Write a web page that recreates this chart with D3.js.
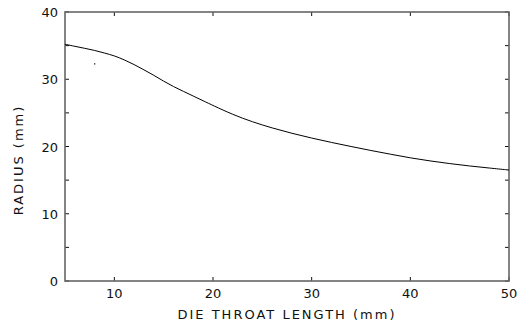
<!DOCTYPE html>
<html>
<head>
<meta charset="utf-8">
<script src="https://cdn.jsdelivr.net/npm/d3@7"></script>
<style>
  body { margin: 0; background: #fff; }
  text { font-family: "DejaVu Sans", sans-serif; fill: #111; }
</style>
</head>
<body>
<div id="chart"></div>
<script>
// curve
const throatLength = [5, 6, 7, 8, 9, 10, 11, 12, 13, 14, 15, 16, 17, 18, 19, 20,
    22, 24, 26, 28, 30, 32, 34, 36, 38, 40, 42, 44, 46, 48, 50];
const radius = [35.2, 34.9, 34.6, 34.3, 33.9, 33.5, 32.9, 32.2, 31.4, 30.6, 29.7, 28.9, 28.2, 27.5, 26.8, 26.1,
    24.75, 23.65, 22.75, 21.95, 21.25, 20.6, 20.0, 19.4, 18.85, 18.3, 17.85, 17.45, 17.1, 16.8, 16.5];
// lone stray point
const strayX = [8];
const strayY = [32.3];

const xTicks = [10, 20, 30, 40, 50];
const yTicks = [0, 5, 10, 15, 20, 25, 30, 35, 40];
const yLabels = [0, 10, 20, 30, 40];

const width = 525;
const height = 327;
const margin = { top: 12, right: 16, bottom: 46, left: 65 };

const svg = d3.select("#chart")
    .append("svg")
    .attr("width", width)
    .attr("height", height);

const xScale = d3.scaleLinear()
    .domain([5, 50])
    .range([margin.left, width - margin.right]);

const yScale = d3.scaleLinear()
    .domain([0, 40])
    .range([height - margin.bottom, margin.top]);

const x0 = xScale.range()[0], x1 = xScale.range()[1];
const y0 = yScale.range()[0], y1 = yScale.range()[1];

// ticks pointing inward on all four sides
const tickLen = 4;
const ticks = svg.append("g").attr("stroke", "#111").attr("stroke-width", 1);

ticks.selectAll(".xb").data(xTicks).enter().append("line")
    .attr("x1", d => xScale(d)).attr("x2", d => xScale(d))
    .attr("y1", y0).attr("y2", y0 - tickLen);
ticks.selectAll(".xt").data(xTicks).enter().append("line")
    .attr("x1", d => xScale(d)).attr("x2", d => xScale(d))
    .attr("y1", y1).attr("y2", y1 + tickLen);
ticks.selectAll(".yl").data(yTicks).enter().append("line")
    .attr("x1", x0).attr("x2", x0 + tickLen)
    .attr("y1", d => yScale(d)).attr("y2", d => yScale(d));
ticks.selectAll(".yr").data(yTicks).enter().append("line")
    .attr("x1", x1).attr("x2", x1 - tickLen)
    .attr("y1", d => yScale(d)).attr("y2", d => yScale(d));

// box
svg.append("rect")
    .attr("x", x0).attr("y", y1)
    .attr("width", x1 - x0).attr("height", y0 - y1)
    .attr("fill", "none")
    .attr("stroke", "#666")
    .attr("stroke-width", 1.6);

// tick labels
svg.append("g").selectAll("text").data(xTicks).enter().append("text")
    .attr("x", d => xScale(d))
    .attr("y", y0 + 17)
    .attr("text-anchor", "middle")
    .style("font-size", "13px")
    .text(d => d);

svg.append("g").selectAll("text").data(yLabels).enter().append("text")
    .attr("x", x0 - 7)
    .attr("y", d => yScale(d) + 5)
    .attr("text-anchor", "end")
    .style("font-size", "13px")
    .text(d => d);

// curve
const line = d3.line()
    .x((d, i) => xScale(throatLength[i]))
    .y(d => yScale(d))
    .curve(d3.curveBasis);

svg.append("path")
    .datum(radius)
    .attr("d", line)
    .attr("fill", "none")
    .attr("stroke", "#000")
    .attr("stroke-width", 1);

svg.selectAll(".stray").data(strayX).enter().append("rect")
    .attr("x", (d, i) => xScale(d) - 0.5)
    .attr("y", (d, i) => yScale(strayY[i]) - 0.5)
    .attr("width", 1.2).attr("height", 1.2)
    .attr("fill", "#000");

// axis titles
svg.append("text")
    .attr("x", (x0 + x1) / 2)
    .attr("y", 319)
    .attr("text-anchor", "middle")
    .style("font-size", "13px")
    .style("letter-spacing", "2px")
    .text("DIE THROAT LENGTH (mm)");

svg.append("text")
    .attr("transform", "translate(23,160) rotate(-90)")
    .attr("text-anchor", "middle")
    .style("font-size", "13px")
    .style("letter-spacing", "2px")
    .text("RADIUS (mm)");
</script>
</body>
</html>
